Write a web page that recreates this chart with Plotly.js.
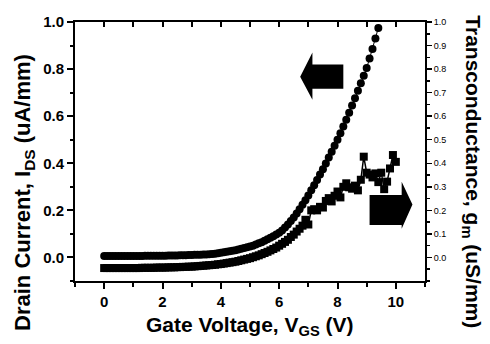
<!DOCTYPE html>
<html>
<head>
<meta charset="utf-8">
<script src="https://cdn.plot.ly/plotly-3.0.1.min.js"></script>
<style>html,body{margin:0;padding:0;background:#fff;}#chart{width:490px;height:344px;}</style>
</head>
<body>
<div id="chart"></div>
<script>
// Gate voltage grid (V)
const vgs = [
  0.0,0.1,0.2,0.3,0.4,0.5,0.6,0.7,0.8,0.9,
  1.0,1.1,1.2,1.3,1.4,1.5,1.6,1.7,1.8,1.9,
  2.0,2.1,2.2,2.3,2.4,2.5,2.6,2.7,2.8,2.9,
  3.0,3.1,3.2,3.3,3.4,3.5,3.6,3.7,3.8,3.9,
  4.0,4.1,4.2,4.3,4.4,4.5,4.6,4.7,4.8,4.9,
  5.0,5.1,5.2,5.3,5.4,5.5,5.6,5.7,5.8,5.9,
  6.0,6.1,6.2,6.3,6.4,6.5,6.6,6.7,6.8,6.9,
  7.0,7.1,7.2,7.3,7.4,7.5,7.6,7.7,7.8,7.9,
  8.0,8.1,8.2,8.3,8.4,8.5,8.6,8.7,8.8,8.9,
  9.0,9.1,9.2,9.3,9.4,9.5,9.6,9.7,9.8,9.9,
  10.0
];
// Drain current I_DS (uA/mm), 0.0 .. 9.4 V
const ids = [
  0.006,0.006,0.006,0.006,0.006,0.006,0.006,0.006,0.006,0.006,
  0.006,0.006,0.006,0.006,0.007,0.007,0.007,0.007,0.007,0.007,
  0.007,0.007,0.008,0.008,0.008,0.008,0.009,0.009,0.009,0.010,
  0.010,0.011,0.011,0.012,0.013,0.013,0.014,0.015,0.016,0.018,
  0.020,0.022,0.024,0.026,0.028,0.031,0.034,0.037,0.040,0.043,
  0.046,0.050,0.055,0.060,0.065,0.071,0.077,0.084,0.090,0.097,
  0.105,0.115,0.127,0.140,0.155,0.170,0.187,0.205,0.224,0.243,
  0.263,0.285,0.307,0.329,0.352,0.375,0.399,0.424,0.449,0.474,
  0.500,0.528,0.556,0.585,0.615,0.645,0.676,0.708,0.740,0.772,
  0.805,0.845,0.885,0.930,0.975
];
// Transconductance g_m (uS/mm), 0.0 .. 10.0 V
const gm = [
  -0.045,-0.045,-0.045,-0.045,-0.045,-0.045,-0.045,-0.045,-0.045,-0.045,
  -0.045,-0.045,-0.045,-0.044,-0.044,-0.044,-0.044,-0.044,-0.043,-0.043,
  -0.043,-0.043,-0.042,-0.042,-0.042,-0.041,-0.041,-0.040,-0.040,-0.039,
  -0.039,-0.038,-0.037,-0.036,-0.035,-0.034,-0.033,-0.032,-0.031,-0.029,
  -0.028,-0.026,-0.024,-0.022,-0.020,-0.018,-0.015,-0.012,-0.009,-0.006,
  -0.003,0.001,0.005,0.009,0.014,0.019,0.024,0.030,0.036,0.042,
  0.050,0.058,0.066,0.075,0.087,0.097,0.110,0.122,0.135,0.160,
  0.140,0.200,0.205,0.200,0.215,0.212,0.240,0.252,0.238,0.262,
  0.280,0.255,0.300,0.315,0.298,0.292,0.305,0.285,0.330,0.428,
  0.360,0.352,0.340,0.357,0.320,0.360,0.290,0.322,0.378,0.435,
  0.406
];
const y2TickVals = [0,0.1,0.2,0.3,0.4,0.5,0.6,0.7,0.8,0.9,1.0];
const y2TickText = ['0.0','0.1','0.2','0.3','0.4','0.5','0.6','0.7','0.8','0.9','1.0'];
const xTitle = 'Gate Voltage, V<sub>GS</sub> (V)';
const yTitle = 'Drain Current, I<sub>DS</sub> (uA/mm)';
const y2Title = 'Transconductance, g<sub>m</sub> (uS/mm)';

const FONT = 'Liberation Sans, Arial, sans-serif';

const traces = [
  {
    x: vgs.slice(0, ids.length), y: ids, type: 'scatter', mode: 'lines+markers',
    name: 'I_DS', xaxis: 'x', yaxis: 'y',
    line: {color: '#000', width: 1},
    marker: {symbol: 'circle', size: 8, color: '#000'}
  },
  {
    x: vgs.slice(0, gm.length), y: gm, type: 'scatter', mode: 'lines+markers',
    name: 'g_m', xaxis: 'x2', yaxis: 'y2',
    line: {color: '#000', width: 1.5},
    marker: {symbol: 'square', size: 8, color: '#000'}
  }
];

const axisCommon = {
  showgrid: false, zeroline: false, showline: true, linecolor: '#000', linewidth: 2,
  tickcolor: '#000'
};

const layout = {
  width: 490, height: 344,
  margin: {l: 75, r: 65, t: 22, b: 63, pad: 0},
  paper_bgcolor: '#fff', plot_bgcolor: '#fff',
  showlegend: false,
  font: {family: FONT, color: '#000'},
  xaxis: Object.assign({}, axisCommon, {
    range: [-1, 11], tick0: 0, dtick: 2, ticks: 'outside', ticklen: 6, tickwidth: 2,
    tickfont: {family: FONT, size: 15, weight: 'bold', color: '#000'},
    minor: {dtick: 1, tick0: 0, ticks: 'outside', ticklen: 4, tickwidth: 2, tickcolor: '#000'}
  }),
  xaxis2: Object.assign({}, axisCommon, {
    overlaying: 'x', side: 'top', range: [-1, 11], tick0: 0, dtick: 1,
    ticks: 'inside', ticklen: 5, tickwidth: 2, showticklabels: false
  }),
  yaxis: Object.assign({}, axisCommon, {
    range: [-0.1, 1.0], tick0: 0, dtick: 0.2, tickformat: '.1f',
    ticks: 'outside', ticklen: 6, tickwidth: 2,
    tickfont: {family: FONT, size: 15, weight: 'bold', color: '#000'},
    minor: {dtick: 0.1, tick0: 0, ticks: 'outside', ticklen: 3, tickwidth: 2, tickcolor: '#000'}
  }),
  yaxis2: Object.assign({}, axisCommon, {
    overlaying: 'y', side: 'right', range: [-0.1, 1.0],
    tickmode: 'array', tickvals: y2TickVals, ticktext: y2TickText,
    ticks: 'outside', ticklen: 5, tickwidth: 1.5,
    tickfont: {family: FONT, size: 9, color: '#000'},
    minor: {tickmode: 'linear', dtick: 0.05, tick0: 0, ticks: 'outside', ticklen: 3, tickwidth: 1.5, tickcolor: '#000'}
  }),
  shapes: [
    {type: 'path', xref: 'x', yref: 'y', layer: 'above',
     path: 'M 6.72,0.768 L 7.14,0.870 L 7.14,0.819 L 8.20,0.819 L 8.20,0.716 L 7.14,0.716 L 7.14,0.670 Z',
     fillcolor: '#000', line: {width: 0}},
    {type: 'path', xref: 'x', yref: 'y', layer: 'above',
     path: 'M 10.57,0.225 L 10.20,0.322 L 10.20,0.265 L 9.10,0.265 L 9.10,0.138 L 10.20,0.138 L 10.20,0.122 Z',
     fillcolor: '#000', line: {width: 0}}
  ],
  annotations: [
    {text: xTitle, xref: 'paper', yref: 'paper', x: 0.5, y: -0.174, xanchor: 'center', yanchor: 'middle',
     showarrow: false, font: {family: FONT, size: 21, weight: 'bold', color: '#000'}},
    {text: yTitle, xref: 'paper', yref: 'paper', x: -0.1457, y: 0.34, xanchor: 'center', yanchor: 'middle',
     textangle: -90, showarrow: false, font: {family: FONT, size: 22, weight: 'bold', color: '#000'}},
    {text: y2Title, xref: 'paper', yref: 'paper', x: 1.134, y: 0.42, xanchor: 'center', yanchor: 'middle',
     textangle: 90, showarrow: false, font: {family: FONT, size: 21, weight: 'bold', color: '#000'}}
  ]
};

Plotly.newPlot('chart', traces, layout, {staticPlot: true, displayModeBar: false});
</script>
</body>
</html>
